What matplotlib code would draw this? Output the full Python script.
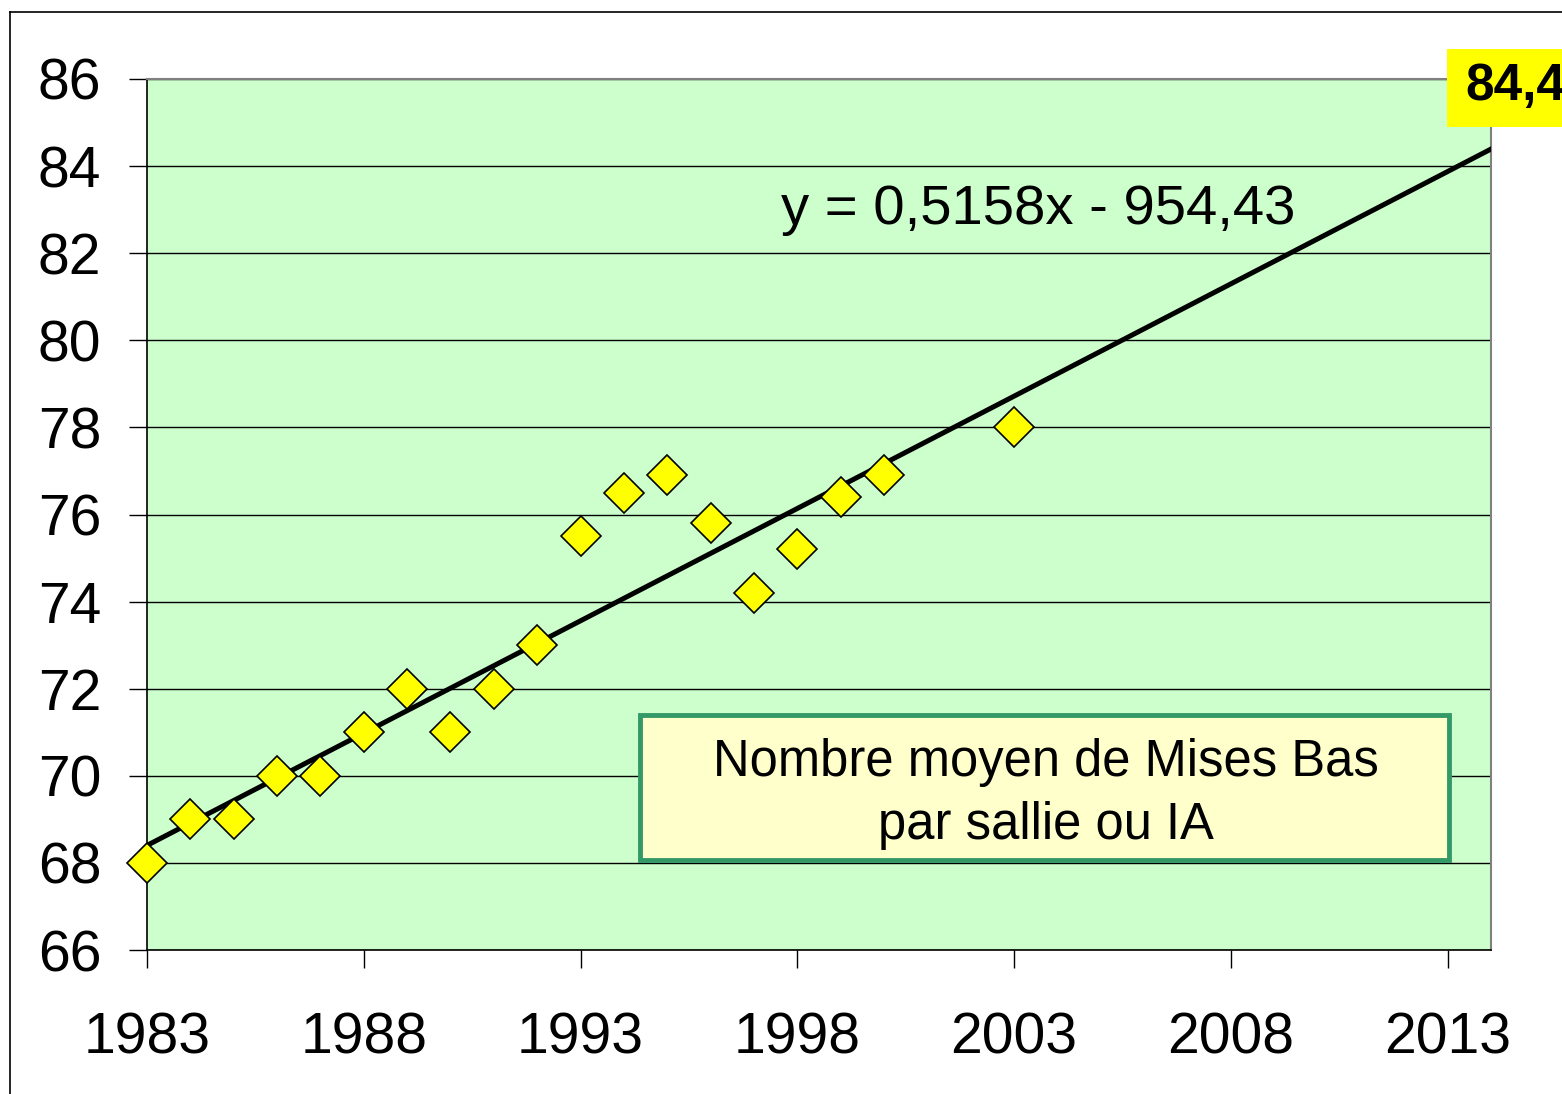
import numpy as np
import matplotlib
matplotlib.use("Agg")
import matplotlib.pyplot as plt
from matplotlib.patches import Rectangle
from matplotlib.lines import Line2D

plt.rcParams['font.family'] = ['Liberation Sans', 'DejaVu Sans']

# données
years = [1983, 1984, 1985, 1986, 1987, 1988, 1989, 1990, 1991, 1992,
         1993, 1994, 1995, 1996, 1997, 1998, 1999, 2000, 2003]
mises_bas = [68.0, 69.0, 69.0, 70.0, 70.0, 71.0, 72.0, 71.0, 72.0, 73.0,
             75.5, 76.5, 76.9, 75.8, 74.2, 75.2, 76.4, 76.9, 78.0]

# droite de tendance (équation affichée)
slope = 0.5158
intercept = -954.43
trend_years = [1983, 2014]
eq_label = "y = 0,5158x - 954,43"
end_label = "84,4"
box_text = "Nombre moyen de Mises Bas\npar sallie ou IA"

x_ticks = [1983, 1988, 1993, 1998, 2003, 2008, 2013]
y_ticks = [66, 68, 70, 72, 74, 76, 78, 80, 82, 84, 86]

fig = plt.figure(figsize=(15.62, 10.94), dpi=100)
ax = fig.add_axes([147/1562, 1-950/1094, (1491-147)/1562, (950-79)/1094])
ax.set_facecolor("#CCFFCC")

# ligne de tendance
tx = np.array(trend_years, dtype=float)
ax.plot(tx, slope*tx + intercept, color="black", linewidth=3.6, zorder=3)

# points
ax.plot(years, mises_bas, linestyle="none", marker="D", markersize=20,
        markerfacecolor="#FFFF00", markeredgecolor="black", markeredgewidth=1.2,
        clip_on=False, zorder=4)

ax.set_xlim(1983, 2014)
ax.set_ylim(66, 86)
ax.set_xticks(x_ticks)
ax.set_yticks(y_ticks)
ax.tick_params(axis="both", labelsize=41, length=13, width=1, direction="out")
ax.tick_params(axis="x", pad=31)
ax.tick_params(axis="y", pad=20)
ax.yaxis.grid(True, color="black", linewidth=1)
ax.set_axisbelow(True)
for s in ["top", "right"]:
    ax.spines[s].set_color("#808080")
    ax.spines[s].set_linewidth(1.5)
for s in ["left", "bottom"]:
    ax.spines[s].set_linewidth(1.2)

# équation
ax.text(0.663, 0.85, eq_label, transform=ax.transAxes, fontsize=40.5,
        ha="center", va="center", zorder=5)

# encadré titre
ax.add_patch(Rectangle((0.367, 0.103), 0.602, 0.167, transform=ax.transAxes,
                       facecolor="#FFFFCC", edgecolor="#339966", linewidth=3.5, zorder=5))
ax.text(0.669, 0.179, box_text, transform=ax.transAxes, fontsize=36.5,
        ha="center", va="center", linespacing=1.38, zorder=6)

# étiquette de fin de tendance
fig.patches.append(Rectangle((1447/1562, 1-127/1094), 0.1, 78/1094,
                             transform=fig.transFigure, facecolor="#FFFF00",
                             edgecolor="none", zorder=5))
fig.text(1465/1562, 1-87/1094, end_label, fontsize=37, fontweight="bold",
         ha="left", va="center", zorder=6)

# cadre du graphique
fig.add_artist(Line2D([10/1562, 10/1562], [0, 1-12/1094], transform=fig.transFigure,
                      color="black", linewidth=1.2))
fig.add_artist(Line2D([10/1562, 1], [1-12/1094, 1-12/1094], transform=fig.transFigure,
                      color="black", linewidth=1.2))

fig.savefig("out.png", dpi=100)
